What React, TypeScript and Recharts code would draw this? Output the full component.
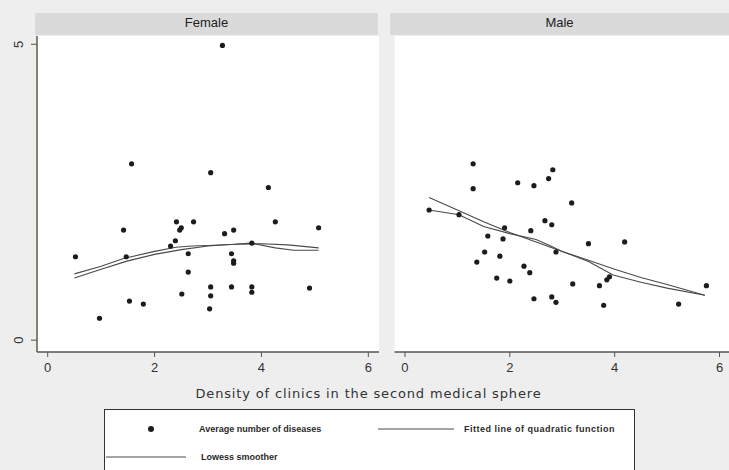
import { ComposedChart, Scatter, XAxis, YAxis, CartesianGrid } from 'recharts'

// density of clinics (x) vs average number of diseases (y)
const femalePoints = [
  { x: 3.27, y: 4.98 }, { x: 1.57, y: 2.98 }, { x: 3.05, y: 2.83 }, { x: 4.13, y: 2.58 },
  { x: 1.42, y: 1.86 }, { x: 2.41, y: 2.0 }, { x: 2.73, y: 2.0 }, { x: 2.47, y: 1.86 },
  { x: 2.5, y: 1.9 }, { x: 4.26, y: 2.0 }, { x: 5.07, y: 1.9 }, { x: 3.31, y: 1.8 },
  { x: 3.48, y: 1.86 }, { x: 0.52, y: 1.41 }, { x: 1.47, y: 1.41 }, { x: 2.39, y: 1.68 },
  { x: 2.3, y: 1.59 }, { x: 2.63, y: 1.46 }, { x: 3.44, y: 1.46 }, { x: 3.48, y: 1.34 },
  { x: 3.48, y: 1.3 }, { x: 3.82, y: 1.64 }, { x: 2.63, y: 1.15 }, { x: 3.05, y: 0.9 },
  { x: 3.44, y: 0.9 }, { x: 3.82, y: 0.9 }, { x: 3.82, y: 0.81 }, { x: 4.9, y: 0.88 },
  { x: 2.51, y: 0.78 }, { x: 3.05, y: 0.75 }, { x: 1.53, y: 0.66 }, { x: 1.79, y: 0.61 },
  { x: 3.03, y: 0.53 }, { x: 0.97, y: 0.37 },
]

const femaleQuadratic = [
  { x: 0.5, y: 1.05 }, { x: 1.0, y: 1.2 }, { x: 1.5, y: 1.34 }, { x: 2.0, y: 1.45 },
  { x: 2.5, y: 1.53 }, { x: 3.0, y: 1.59 }, { x: 3.5, y: 1.62 }, { x: 4.0, y: 1.63 },
  { x: 4.5, y: 1.61 }, { x: 5.07, y: 1.56 },
]

const femaleLowess = [
  { x: 0.5, y: 1.12 }, { x: 1.0, y: 1.25 }, { x: 1.42, y: 1.38 }, { x: 2.0, y: 1.5 },
  { x: 2.4, y: 1.57 }, { x: 2.7, y: 1.59 }, { x: 3.0, y: 1.6 }, { x: 3.5, y: 1.62 },
  { x: 3.8, y: 1.64 }, { x: 4.26, y: 1.56 }, { x: 4.6, y: 1.52 }, { x: 5.07, y: 1.52 },
]

const malePoints = [
  { x: 1.3, y: 2.98 }, { x: 1.3, y: 2.56 }, { x: 2.15, y: 2.66 }, { x: 2.46, y: 2.61 },
  { x: 2.74, y: 2.73 }, { x: 2.82, y: 2.88 }, { x: 3.18, y: 2.32 }, { x: 0.46, y: 2.2 },
  { x: 1.03, y: 2.12 }, { x: 2.67, y: 2.02 }, { x: 2.8, y: 1.95 }, { x: 1.9, y: 1.9 },
  { x: 2.4, y: 1.85 }, { x: 1.58, y: 1.76 }, { x: 1.87, y: 1.71 }, { x: 3.5, y: 1.63 },
  { x: 4.19, y: 1.66 }, { x: 2.88, y: 1.49 }, { x: 1.52, y: 1.49 }, { x: 1.37, y: 1.32 },
  { x: 1.81, y: 1.42 }, { x: 2.27, y: 1.25 }, { x: 2.38, y: 1.14 }, { x: 1.75, y: 1.05 },
  { x: 2.0, y: 1.0 }, { x: 3.2, y: 0.95 }, { x: 3.71, y: 0.92 }, { x: 3.85, y: 1.02 },
  { x: 3.9, y: 1.07 }, { x: 2.46, y: 0.7 }, { x: 2.8, y: 0.73 }, { x: 2.88, y: 0.64 },
  { x: 3.79, y: 0.59 }, { x: 5.22, y: 0.61 }, { x: 5.75, y: 0.92 },
]

const maleQuadratic = [
  { x: 0.46, y: 2.41 }, { x: 1.0, y: 2.2 }, { x: 1.5, y: 2.0 }, { x: 2.0, y: 1.82 },
  { x: 2.5, y: 1.66 }, { x: 3.0, y: 1.5 }, { x: 3.5, y: 1.35 }, { x: 4.0, y: 1.2 },
  { x: 4.5, y: 1.06 }, { x: 5.0, y: 0.94 }, { x: 5.72, y: 0.76 },
]

const maleLowess = [
  { x: 0.46, y: 2.2 }, { x: 1.03, y: 2.12 }, { x: 1.5, y: 1.92 }, { x: 2.0, y: 1.8 },
  { x: 2.5, y: 1.7 }, { x: 2.76, y: 1.6 }, { x: 3.0, y: 1.5 }, { x: 3.5, y: 1.33 },
  { x: 3.97, y: 1.1 }, { x: 4.5, y: 0.98 }, { x: 5.0, y: 0.88 }, { x: 5.72, y: 0.76 },
]

const xTicks = [0, 2, 4, 6]
const yTicks = [0, 5]
const panelTitles = ['Female', 'Male']
const xTitle = 'Density of clinics in the second medical sphere'
const legendLabels = ['Average number of diseases', 'Fitted line of quadratic function', 'Lowess smoother']

const ink = '#2a2a2a'
const fitStroke = '#4a4a4a'

const Dot = (props: any) => {
  const { cx, cy } = props
  if (cx == null || cy == null) return <g />
  return <circle cx={cx} cy={cy} r={2.6} fill="#1c1c1c" />
}

const NoDot = () => <g />

const YTick = (props: any) => {
  const { y, payload } = props
  return (
    <text
      transform={`translate(18,${y}) rotate(-90)`}
      textAnchor="middle"
      dominantBaseline="central"
      fontSize={13}
      fill="#333"
      fontFamily="Arial, 'Liberation Sans', sans-serif"
    >
      {payload.value}
    </text>
  )
}

type PanelProps = {
  points: { x: number; y: number }[]
  quad: { x: number; y: number }[]
  lowess: { x: number; y: number }[]
  showY: boolean
  width: number
  left: number
}

function Panel({ points, quad, lowess, showY, width, left }: PanelProps) {
  return (
    <ComposedChart
      width={width}
      height={380}
      margin={{ top: 36, right: showY ? 1 : 2, bottom: 0, left: left }}
    >
      <CartesianGrid horizontal={false} vertical={false} fill="#ffffff" />
      <XAxis
        type="number"
        dataKey="x"
        domain={[-0.2, 6.2]}
        ticks={xTicks}
        height={28}
        allowDataOverflow
        axisLine={{ stroke: '#555', strokeWidth: 1.5 }}
        tickLine={{ stroke: '#555' }}
        tickSize={5}
        tickMargin={6}
        tick={{ fill: '#333', fontSize: 13, fontFamily: "Arial, 'Liberation Sans', sans-serif" }}
      />
      <YAxis
        type="number"
        dataKey="y"
        domain={[-0.2, 5.14]}
        ticks={yTicks}
        width={37}
        hide={!showY}
        allowDataOverflow
        axisLine={{ stroke: '#5c5c44', strokeWidth: 1.5 }}
        tickLine={{ stroke: '#555' }}
        tickSize={6}
        tick={<YTick />}
      />
      <Scatter data={quad} line={{ stroke: fitStroke, strokeWidth: 1.1 }} shape={NoDot} isAnimationActive={false} />
      <Scatter data={lowess} line={{ stroke: fitStroke, strokeWidth: 1.1 }} shape={NoDot} isAnimationActive={false} />
      <Scatter data={points} shape={Dot} isAnimationActive={false} />
    </ComposedChart>
  )
}

const stripStyle = {
  position: 'absolute' as const,
  top: 13,
  height: 22,
  background: '#dadada',
  textAlign: 'center' as const,
  lineHeight: '20px',
  fontSize: 13,
  color: '#222',
  fontFamily: "Arial, 'Liberation Sans', sans-serif",
}

const legendFont = "'Liberation Sans Narrow', 'Arial Narrow', 'Liberation Sans', sans-serif"

export default function App() {
  return (
    <div
      style={{
        position: 'absolute',
        left: 0,
        top: 0,
        width: 729,
        height: 470,
        background: '#eeeeee',
        overflow: 'hidden',
      }}
    >
      <div style={{ position: 'absolute', left: 0, top: 0 }}>
        <Panel points={femalePoints} quad={femaleQuadratic} lowess={femaleLowess} showY width={380} left={0} />
      </div>
      <div style={{ position: 'absolute', left: 380, top: 0 }}>
        <Panel points={malePoints} quad={maleQuadratic} lowess={maleLowess} showY={false} width={352} left={14.5} />
      </div>

      <div style={{ ...stripStyle, left: 35, width: 343 }}>{panelTitles[0]}</div>
      <div style={{ ...stripStyle, left: 390, width: 339 }}>{panelTitles[1]}</div>

      <div
        style={{
          position: 'absolute',
          left: 0,
          top: 386,
          width: 737,
          textAlign: 'center',
          fontSize: 13,
          lineHeight: '15px',
          color: '#333',
          fontFamily: "'DejaVu Sans', Verdana, sans-serif",
          letterSpacing: 0.85,
        }}
      >
        {xTitle}
      </div>

      <div
        style={{
          position: 'absolute',
          left: 104,
          top: 409,
          width: 529,
          height: 80,
          border: '1.5px solid #333',
          background: '#ffffff',
        }}
      >
        <svg width={529} height={70} style={{ position: 'absolute', left: 0, top: 0 }}>
          <circle cx={46} cy={19} r={3} fill="#1c1c1c" />
          <text x={94} y={19} dominantBaseline="central" fontSize={9} fontFamily={legendFont} fill={ink} fontWeight={600}>
            {legendLabels[0]}
          </text>
          <line x1={273} x2={349} y1={19} y2={19} stroke={fitStroke} strokeWidth={1.2} />
          <text x={359} y={19} dominantBaseline="central" fontSize={9} fontFamily={legendFont} fill={ink} fontWeight={600} letterSpacing={0.5}>
            {legendLabels[1]}
          </text>
          <line x1={1} x2={81} y1={47} y2={47} stroke={fitStroke} strokeWidth={1.2} />
          <text x={96} y={47} dominantBaseline="central" fontSize={9} fontFamily={legendFont} fill={ink} fontWeight={600}>
            {legendLabels[2]}
          </text>
        </svg>
      </div>
    </div>
  )
}
